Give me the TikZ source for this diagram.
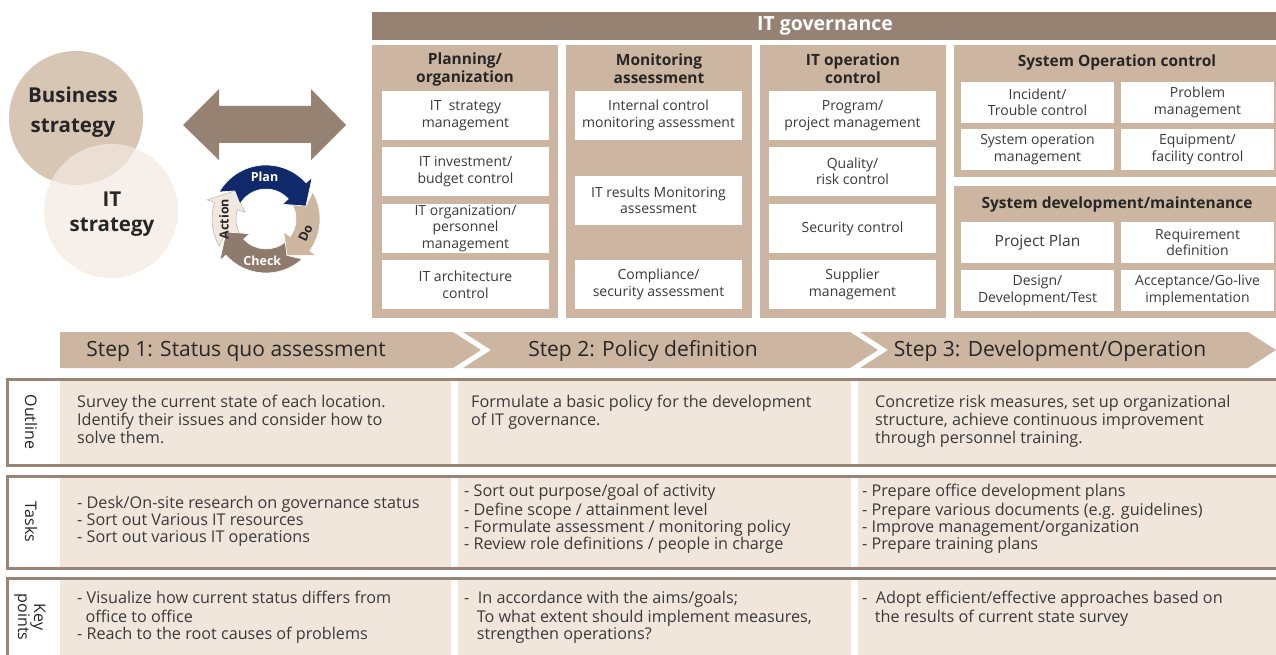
\documentclass[tikz,border=0pt]{standalone}
\usepackage{fontspec}
\setmainfont{Open Sans}
\usetikzlibrary{calc}
\definecolor{tanA}{HTML}{CDB6A1}
\definecolor{hdr}{HTML}{958273}
\definecolor{cellbg}{HTML}{F1E6DC}
\definecolor{brd}{HTML}{9A8475}
\definecolor{bizc}{HTML}{D8C6B5}
\definecolor{itc}{HTML}{F4EBE2}
\definecolor{navy}{HTML}{10296B}
\definecolor{doc}{HTML}{CEB7A1}
\definecolor{chk}{HTML}{8F7B6E}
\definecolor{act}{HTML}{F2E8DF}
\definecolor{txt}{HTML}{3A3A3A}
\definecolor{dark}{HTML}{262626}
\newcommand\wbx[6]{\node[wbox, minimum width={#4-#2}, minimum height={#5-#3}] (#1) at ({(#2+#4)/2},{(#3+#5)/2}) {#6};}
\newcommand\pdseg[5]{\filldraw[fill=#1, #5] (#2:54) arc[start angle=#2, end angle=#3, radius=54] -- (#3:62) -- (#4:42) -- (#3:22) -- (#3:30) arc[start angle=#3, end angle=#2, radius=30] -- ({#2+12}:42) -- cycle;}
\tikzset{
 wbox/.style={fill=white, inner sep=0pt, align=center, text=txt, font=\fontsize{14}{16.5}\selectfont},
 colhead/.style={align=center, text=dark, font=\fontsize{15.5}{18}\bfseries\selectfont, inner sep=0pt},
 cell/.style={anchor=north west, inner sep=0pt, align=left, text=txt},
 cellA/.style={cell, font=\fontsize{16.2}{18}\selectfont},
 cellB/.style={cell, font=\fontsize{16.2}{17}\selectfont},
 cellC/.style={cell, font=\fontsize{16.2}{17.5}\selectfont},
 steptext/.style={text=dark, font=\fontsize{21}{24}\selectfont, inner sep=0pt},
 rowlabel/.style={rotate=-90, align=center, text=dark, font=\fontsize{16}{16}\selectfont, inner sep=0pt},
 stepshape/.style={fill=tanA},
 pdlabel/.style={font=\fontsize{12.5}{14}\bfseries\selectfont, inner sep=0pt},
}
\begin{document}
\begin{tikzpicture}[x=1pt,y=-1pt]
\useasboundingbox (0,0) rectangle (1276,655);
\fill[white] (0,0) rectangle (1276,655);

% strategy circles
\fill[bizc] (76,118) circle[radius=67];
\fill[itc, opacity=0.7] (111,211) circle[radius=67];
\node[align=center, text=dark, font=\fontsize{20.5}{30}\bfseries\selectfont, inner sep=0pt] (biz) at (73,112) {Business\\strategy};
\node[align=center, text=dark, font=\fontsize{20.5}{25}\bfseries\selectfont, inner sep=0pt] (its) at (112,214) {IT\\strategy};

% double arrow
\fill[hdr] (183,125) -- (219,89) -- (219,106) -- (311,106) -- (311,89) -- (346,125) -- (311,160) -- (311,143) -- (219,143) -- (219,160) -- cycle;

% PDCA cycle
\begin{scope}[shift={(266,219)}]
\pdseg{act}{150}{198}{222}{draw=black!30, line width=0.5}
\pdseg{chk}{48}{138}{162}{draw=white, line width=0.6}
\pdseg{doc}{-30}{36}{60}{draw=white, line width=0.6}
\pdseg{navy}{-150}{-42}{-18}{draw=white, line width=0.6}
\node[pdlabel, text=white] (plan) at (-92:42) {Plan};
\node[pdlabel, text=dark, rotate=65] (do) at (20:42) {Do};
\node[pdlabel, text=white] (check) at (95:42) {Check};
\node[pdlabel, text=dark, rotate=90] (action) at (180:42) {Action};
\end{scope}

% IT governance header
\fill[hdr] (372,12) rectangle (1276,40);
\node[text=white, font=\fontsize{19.5}{22}\bfseries\selectfont, inner sep=0pt] (itg) at (825,26) {IT governance};

% column backgrounds
\fill[tanA] (372,45) rectangle (558,318);
\fill[tanA] (566,45) rectangle (752,318);
\fill[tanA] (760,45) rectangle (946,318);
\fill[tanA] (954,45) rectangle (1276,177);
\fill[tanA] (954,186) rectangle (1276,318);

\node[colhead] (h1) at (465,69) {Planning/\\organization};
\node[colhead] (h2) at (659,69) {Monitoring\\assessment};
\node[colhead] (h3) at (853,69) {IT operation\\control};
\node[colhead] (h4) at (1117,62) {System Operation control};
\node[colhead] (h5) at (1117,204) {System development/maintenance};

\wbx{p1}{382}{91}{549}{140}{IT\ \ strategy\\management}
\wbx{p2}{382}{147}{549}{196}{IT investment/\\budget control}
\wbx{p3}{382}{204}{549}{253}{\fontsize{14}{15}\selectfont IT organization/\\personnel\\management}
\wbx{p4}{382}{260}{549}{309}{IT architecture\\control}

\wbx{m1}{575}{91}{742}{140}{Internal control\\monitoring assessment}
\wbx{m2}{575}{176}{742}{225}{IT results Monitoring\\assessment}
\wbx{m3}{575}{260}{742}{309}{Compliance/\\security assessment}

\wbx{o1}{769}{91}{936}{140}{Program/\\project management}
\wbx{o2}{769}{147}{936}{196}{Quality/\\risk control}
\wbx{o3}{769}{204}{936}{253}{Security control}
\wbx{o4}{769}{260}{936}{309}{Supplier\\management}

\wbx{s1}{961}{82}{1114}{123}{Incident/\\Trouble control}
\wbx{s2}{1121}{82}{1274}{123}{Problem\\management}
\wbx{s3}{961}{129}{1114}{170}{System operation\\management}
\wbx{s4}{1121}{129}{1274}{170}{Equipment/\\facility control}

\wbx{d1}{961}{222}{1114}{263}{\fontsize{15.5}{18}\selectfont Project Plan}
\wbx{d2}{1121}{222}{1274}{263}{Requirement\\definition}
\wbx{d3}{961}{270}{1114}{311}{Design/\\Development/Test}
\wbx{d4}{1121}{270}{1274}{311}{Acceptance/Go-live\\implementation}

% steps
\fill[stepshape] (60,332) -- (453,332) -- (481,350) -- (453,368) -- (60,368) -- cycle;
\fill[stepshape] (463,332) -- (850,332) -- (878,350) -- (850,368) -- (463,368) -- (491,350) -- cycle;
\fill[stepshape] (860,332) -- (1248,332) -- (1276,350) -- (1248,368) -- (860,368) -- (888,350) -- cycle;
\node[steptext] (st1) at (236,351) {Step 1: Status quo assessment};
\node[steptext] (st2) at (643,351) {Step 2: Policy definition};
\node[steptext] (st3) at (1050,351) {Step 3: Development/Operation};

% table rows
\foreach \ya/\yb in {379/465, 476/568, 578/670} {
  \fill[white] (7,\ya) rectangle (1285,\yb);
  \fill[cellbg] (60,\ya) rectangle (451,\yb);
  \fill[cellbg] (458,\ya) rectangle (851,\yb);
  \fill[cellbg] (858,\ya) rectangle (1285,\yb);
  \draw[brd, line width=3] (7,\ya) rectangle (1285,\yb);
}
\node[rowlabel] (lo) at (31,422) {Outline};
\node[rowlabel] (lt) at (31,522) {Tasks};
\node[rowlabel] (lk) at (30,617) {Key\\points};

\node[cellA] (o1c) at (77,394.4) {\strut Survey the current state of each location.\\Identify their issues and consider how to\\solve them.};
\node[cellA] (o2c) at (471,394.4) {\strut Formulate a basic policy for the development\\of IT governance.};
\node[cellA] (o3c) at (875,394.4) {\strut Concretize risk measures, set up organizational\\structure, achieve continuous improvement\\through personnel training.};

\node[cellB] (t1c) at (77,496) {\strut - Desk/On-site research on governance status\\- Sort out Various IT resources\\- Sort out various IT operations};
\node[cellB] (t2c) at (464,484) {\strut - Sort out purpose/goal of activity\\- Define scope / attainment level\\- Formulate assessment / monitoring policy\\- Review role definitions / people in charge};
\node[cellB] (t3c) at (862,484) {\strut - Prepare office development plans\\- Prepare various documents (e.g. guidelines)\\- Improve management/organization\\- Prepare training plans};

\node[cellC] (k1c) at (77,591) {\strut - Visualize how current status differs from\\\ \ office to office\\- Reach to the root causes of problems};
\node[cellC] (k2c) at (464,591) {\strut -\ \ In accordance with the aims/goals;\\\ \ \ To what extent should implement measures,\\\ \ \ strengthen operations?};
\node[cellC] (k3c) at (862,591) {\strut -\ \ Adopt efficient/effective approaches based on\\\ \ \ the results of current state survey};
\end{tikzpicture}
\end{document}
